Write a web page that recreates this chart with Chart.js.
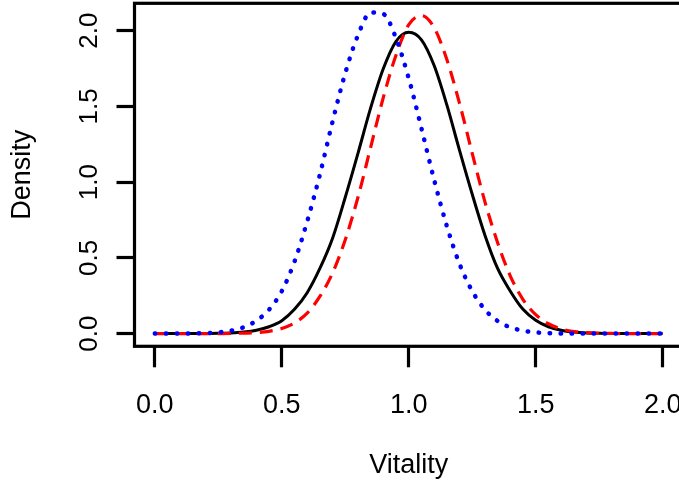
<!DOCTYPE html>
<html>
<head>
<meta charset="utf-8">
<script src="https://cdn.jsdelivr.net/npm/chart.js@4.4.0/dist/chart.umd.min.js"></script>
<style>
    html, body { margin: 0; padding: 0; background: #fff; overflow: hidden; }
    #wrap { width: 683px; height: 486px; }
</style>
</head>
<body>
<div id="wrap"><canvas id="densityChart" width="683" height="486"></canvas></div>
<script>
// Vitality grid and the three density curves
const vitality = [0.00, 0.05, 0.10, 0.15, 0.20, 0.25, 0.30, 0.35, 0.40, 0.45,
                  0.50, 0.55, 0.60, 0.65, 0.70, 0.75, 0.80, 0.85, 0.90, 0.95,
                  1.00, 1.05, 1.10, 1.15, 1.20, 1.25, 1.30, 1.35, 1.40, 1.45,
                  1.50, 1.55, 1.60, 1.65, 1.70, 1.75, 1.80, 1.85, 1.90, 1.95, 2.00];

const densitySolid = [0, 0, 0, 0, 0.001, 0.002, 0.004, 0.010, 0.022, 0.045,
                      0.085, 0.160, 0.270, 0.430, 0.630, 0.900, 1.190, 1.490, 1.750, 1.930,
                      1.990, 1.940, 1.770, 1.510, 1.210, 0.920, 0.650, 0.430, 0.280, 0.160,
                      0.088, 0.045, 0.022, 0.010, 0.004, 0.002, 0.001, 0, 0, 0, 0];

const densityDashed = [0, 0, 0, 0, 0, 0, 0.001, 0.003, 0.006, 0.015,
                       0.034, 0.070, 0.135, 0.245, 0.400, 0.620, 0.900, 1.230, 1.560, 1.840,
                       2.040, 2.100, 2.020, 1.810, 1.520, 1.190, 0.870, 0.600, 0.380, 0.225,
                       0.125, 0.065, 0.031, 0.014, 0.006, 0.002, 0.001, 0, 0, 0, 0];

const densityDotted = [0, 0, 0, 0.001, 0.003, 0.008, 0.019, 0.042, 0.085, 0.158,
                       0.280, 0.475, 0.740, 1.050, 1.400, 1.720, 1.970, 2.120, 2.110, 1.950,
                       1.685, 1.355, 1.015, 0.710, 0.460, 0.280, 0.158, 0.083, 0.041, 0.019,
                       0.008, 0.003, 0.001, 0, 0, 0, 0, 0, 0, 0, 0];

const xTicks = [0, 0.5, 1, 1.5, 2];
const yTicks = [0, 0.5, 1, 1.5, 2];

const FONT = "'Liberation Sans', Arial, sans-serif";

function toPoints(ys) {
    return vitality.map((x, i) => ({ x: x, y: ys[i] }));
}

function noPadding(s) {
    s.paddingLeft = 0;
    s.paddingRight = 0;
    s.paddingTop = 0;
    s.paddingBottom = 0;
}

// R style box around the plotting region
const plotBox = {
    id: 'plotBox',
    afterDatasetsDraw(chart) {
        const { ctx, chartArea: a } = chart;
        ctx.save();
        ctx.strokeStyle = '#000';
        ctx.lineWidth = 3.2;
        ctx.strokeRect(a.left, a.top, a.right - a.left, a.bottom - a.top);
        ctx.restore();
    }
};

const ctx = document.getElementById('densityChart').getContext('2d');
const densityChart = new Chart(ctx, {
    type: 'line',
    data: {
        datasets: [
            {
                data: toPoints(densitySolid),
                borderColor: '#000000',
                borderWidth: 3,
                order: 3
            },
            {
                data: toPoints(densityDashed),
                borderColor: '#ff0000',
                borderWidth: 3.2,
                borderDash: [13, 8],
                order: 2
            },
            {
                data: toPoints(densityDotted),
                borderColor: '#0000ff',
                borderWidth: 4.5,
                borderDash: [0.5, 10.5],
                borderCapStyle: 'round',
                order: 1
            }
        ]
    },
    options: {
        responsive: false,
        animation: false,
        events: [],
        layout: { autoPadding: false, padding: { top: 3.3, left: 0, right: 0, bottom: 0 } },
        elements: {
            point: { radius: 0 },
            line: { cubicInterpolationMode: 'monotone', fill: false }
        },
        plugins: {
            legend: { display: false },
            tooltip: { enabled: false }
        },
        scales: {
            x: {
                type: 'linear',
                min: -0.08,
                max: 2.08,
                afterBuildTicks: s => { s.ticks = xTicks.map(v => ({ value: v })); },
                afterFit: s => { s.height = 139.7; noPadding(s); },
                border: { display: false },
                grid: {
                    drawOnChartArea: false,
                    drawTicks: true,
                    tickLength: 21,
                    tickWidth: 3.2,
                    tickColor: '#000'
                },
                ticks: {
                    autoSkip: false,
                    maxRotation: 0,
                    padding: 22.4,
                    color: '#000',
                    font: { family: FONT, size: 27 },
                    callback: v => v.toFixed(1)
                },
                title: {
                    display: true,
                    text: 'Vitality',
                    color: '#000',
                    font: { family: FONT, size: 27 },
                    padding: { top: 0, bottom: 3.8 }
                }
            },
            y: {
                type: 'linear',
                min: -0.084,
                max: 2.181,
                afterBuildTicks: s => { s.ticks = yTicks.map(v => ({ value: v })); },
                afterFit: s => { s.width = 134.5; noPadding(s); },
                border: { display: false },
                grid: {
                    drawOnChartArea: false,
                    drawTicks: true,
                    tickLength: 18,
                    tickWidth: 3.2,
                    tickColor: '#000'
                },
                ticks: {
                    autoSkip: false,
                    minRotation: 90,
                    maxRotation: 90,
                    crossAlign: 'center',
                    padding: 9,
                    color: '#000',
                    font: { family: FONT, size: 26 },
                    callback: v => v.toFixed(1)
                },
                title: {
                    display: true,
                    text: 'Density',
                    color: '#000',
                    font: { family: FONT, size: 27 },
                    padding: { top: 6.8, bottom: 0 }
                }
            }
        }
    },
    plugins: [plotBox]
});
</script>
</body>
</html>
